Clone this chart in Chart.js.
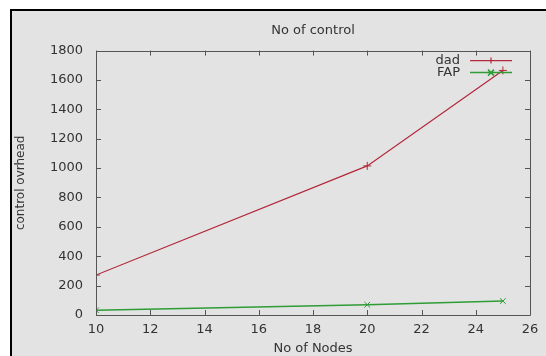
<!DOCTYPE html>
<html>
<head>
<meta charset="utf-8">
<script src="https://cdn.jsdelivr.net/npm/chart.js@4/dist/chart.umd.min.js"></script>
<style>
  html, body { margin: 0; padding: 0; background: #fff; }
  #wrap { width: 546px; height: 356px; }
</style>
</head>
<body>
<div id="wrap"><canvas id="chart" width="546" height="356"></canvas></div>
<script>
// data
const nodes = [10, 20, 25];
const dadValues = [272, 1015, 1665];
const fapValues = [32, 70, 95];
const xTicks = [10, 12, 14, 16, 18, 20, 22, 24, 26];
const yTicks = [0, 200, 400, 600, 800, 1000, 1200, 1400, 1600, 1800];

const RED = '#b3283a';
const GREEN = '#2f9c35';
const AXIS = '#555555';
const TEXT = '#333333';
const FONT = 'DejaVu Sans';

Chart.defaults.font.family = FONT;
Chart.defaults.font.size = 13;
Chart.defaults.color = TEXT;

// grey panel with black top and left edges
const framePlugin = {
    id: 'frame',
    beforeDraw(chart) {
        const ctx = chart.ctx;
        ctx.save();
        ctx.fillStyle = '#ffffff';
        ctx.fillRect(0, 0, chart.width, chart.height);
        ctx.fillStyle = '#e3e3e3';
        ctx.fillRect(10, 9, chart.width - 10, chart.height - 9);
        ctx.fillStyle = '#000000';
        ctx.fillRect(10, 9, chart.width - 10, 2);
        ctx.fillRect(10, 9, 2, chart.height - 9);
        ctx.restore();
    }
};

// gnuplot style box with inward ticks on all four sides
const boxPlugin = {
    id: 'box',
    afterDatasetsDraw(chart) {
        const ctx = chart.ctx;
        const a = chart.chartArea;
        const xs = chart.scales.x, ys = chart.scales.y;
        const len = 5;
        ctx.save();
        ctx.strokeStyle = AXIS;
        ctx.lineWidth = 1;
        ctx.beginPath();
        ctx.rect(Math.round(a.left) + 0.5, Math.round(a.top) + 0.5,
                 Math.round(a.right - a.left), Math.round(a.bottom - a.top));
        xTicks.forEach(v => {
            const px = Math.round(xs.getPixelForValue(v)) + 0.5;
            ctx.moveTo(px, a.bottom); ctx.lineTo(px, a.bottom - len);
            ctx.moveTo(px, a.top); ctx.lineTo(px, a.top + len);
        });
        yTicks.forEach(v => {
            const py = Math.round(ys.getPixelForValue(v)) + 0.5;
            ctx.moveTo(a.left, py); ctx.lineTo(a.left + len, py);
            ctx.moveTo(a.right, py); ctx.lineTo(a.right - len, py);
        });
        ctx.stroke();
        ctx.restore();
    }
};

// legend in the top right corner of the plot
const keyPlugin = {
    id: 'key',
    afterDraw(chart) {
        const ctx = chart.ctx;
        const a = chart.chartArea;
        ctx.save();
        ctx.font = '13px ' + FONT;
        ctx.textAlign = 'right';
        ctx.textBaseline = 'middle';
        chart.data.datasets.forEach((ds, i) => {
            const y = a.top + 10 + i * 12;
            const x0 = a.right - 60, x1 = a.right - 18;
            ctx.fillStyle = TEXT;
            ctx.fillText(ds.label, x0 - 10, y);
            ctx.strokeStyle = ds.borderColor;
            ctx.lineWidth = ds.borderWidth;
            ctx.beginPath();
            ctx.moveTo(x0, y); ctx.lineTo(x1, y);
            const mx = (x0 + x1) / 2, r = 3;
            if (ds.pointStyle === 'cross') {
                ctx.moveTo(mx - r, y); ctx.lineTo(mx + r, y);
                ctx.moveTo(mx, y - r); ctx.lineTo(mx, y + r);
            } else {
                ctx.moveTo(mx - r, y - r); ctx.lineTo(mx + r, y + r);
                ctx.moveTo(mx - r, y + r); ctx.lineTo(mx + r, y - r);
            }
            ctx.stroke();
        });
        ctx.restore();
    }
};

new Chart(document.getElementById('chart'), {
    type: 'line',
    data: {
        datasets: [{
            label: 'dad',
            data: nodes.map((n, i) => ({ x: n, y: dadValues[i] })),
            borderColor: RED,
            backgroundColor: RED,
            borderWidth: 1.2,
            pointStyle: 'cross',
            pointRadius: 4,
            pointBorderWidth: 1,
            tension: 0
        }, {
            label: 'FAP',
            data: nodes.map((n, i) => ({ x: n, y: fapValues[i] })),
            borderColor: GREEN,
            backgroundColor: GREEN,
            borderWidth: 1.5,
            pointStyle: 'crossRot',
            pointRadius: 4,
            pointBorderWidth: 1,
            tension: 0
        }]
    },
    options: {
        responsive: false,
        animation: false,
        layout: { padding: { left: 12, right: 16, top: 10, bottom: 0 } },
        plugins: {
            legend: { display: false },
            tooltip: { enabled: false },
            title: {
                display: true,
                text: 'No of control',
                fullSize: false,
                color: TEXT,
                font: { size: 13, weight: 'normal' },
                padding: { top: 13, bottom: 12 }
            }
        },
        scales: {
            x: {
                type: 'linear',
                min: 10, max: 26,
                afterBuildTicks(scale) { scale.ticks = xTicks.map(v => ({ value: v })); },
                afterFit(scale) { scale.height = 41; },
                grid: { display: false, drawTicks: false },
                border: { display: false },
                ticks: { padding: 7, color: TEXT, font: { size: 13 }, callback: v => String(v) },
                title: { display: true, text: 'No of Nodes', color: TEXT, font: { size: 13 }, padding: 0 }
            },
            y: {
                type: 'linear',
                min: 0, max: 1800,
                afterBuildTicks(scale) { scale.ticks = yTicks.map(v => ({ value: v })); },
                afterFit(scale) { scale.width = 84; },
                grid: { display: false, drawTicks: false },
                border: { display: false },
                ticks: { padding: 13, color: TEXT, font: { size: 13 }, callback: v => String(v) },
                title: { display: true, text: 'control ovrhead', color: TEXT, font: { size: 12 }, padding: { top: 2, bottom: 0 } }
            }
        }
    },
    plugins: [framePlugin, boxPlugin, keyPlugin]
});
</script>
</body>
</html>
